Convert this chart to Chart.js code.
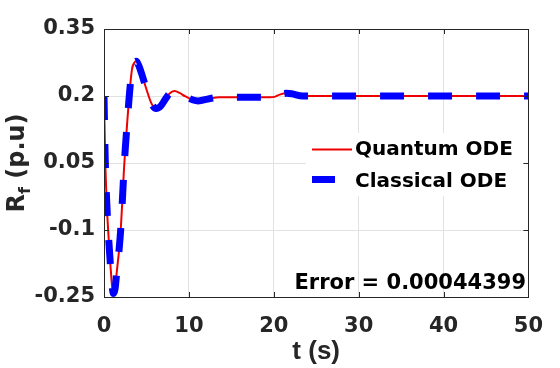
<!DOCTYPE html>
<html>
<head>
<meta charset="utf-8">
<script src="https://cdn.jsdelivr.net/npm/chart.js@4/dist/chart.umd.min.js"></script>
<style>
    html, body { margin: 0; padding: 0; background: #fff; }
    #rfChart { display: block; }
</style>
</head>
<body>
<canvas id="rfChart" width="560" height="368"></canvas>
<script>
// time axis (s) and the two responses
const timeS = [0, 0.06, 0.14, 0.26, 0.4, 0.57, 0.77, 0.95, 1.12, 1.3, 1.5, 1.75, 2.0, 2.2, 2.35,
    2.5, 2.75, 3.0, 3.3, 3.55, 3.8, 4.1, 4.4, 5.0, 5.6, 6.15, 6.7, 7.2, 7.7, 8.3, 8.9, 9.5,
    10.5, 11.1, 12.4, 13.6, 16, 19.5, 20.1, 20.7, 21.5, 22.1, 23.4, 24.6, 30, 40, 50];
const quantumOde = [0.2, 0.14, 0.06, -0.01, -0.07, -0.125, -0.182, -0.225, -0.242, -0.232, -0.195, -0.15, -0.09, -0.02, 0.035,
    0.08, 0.145, 0.205, 0.26, 0.274, 0.278, 0.268, 0.252, 0.215, 0.183, 0.172, 0.178, 0.192, 0.205, 0.211, 0.207, 0.2,
    0.191, 0.189, 0.194, 0.197, 0.197, 0.197, 0.198, 0.203, 0.206, 0.205, 0.2, 0.2, 0.2, 0.2, 0.2];
const classicalOde = [0.2, 0.14, 0.06, -0.01, -0.07, -0.125, -0.182, -0.225, -0.242, -0.232, -0.195, -0.15, -0.09, -0.02, 0.035,
    0.08, 0.145, 0.205, 0.26, 0.274, 0.278, 0.268, 0.252, 0.215, 0.183, 0.172, 0.178, 0.192, 0.205, 0.211, 0.207, 0.2,
    0.191, 0.189, 0.194, 0.197, 0.197, 0.197, 0.198, 0.203, 0.206, 0.205, 0.2, 0.2, 0.2, 0.2, 0.2];

const xTicks = [0, 10, 20, 30, 40, 50];
const yTicks = [-0.25, -0.1, 0.05, 0.2, 0.35];
const seriesNames = ['Quantum ODE', 'Classical ODE'];
const errorText = 'Error = 0.00044399';
const xTitle = 't (s)';

const ink = '#262626';
const tickFont = { family: 'DejaVu Sans', weight: 'bold', size: 21 };

const toPoints = ys => timeS.map((t, i) => ({ x: t, y: ys[i] }));

// frame, inward ticks, legend, error note and axis titles
const decor = {
    id: 'decor',
    afterDatasetsDraw(chart) {
        const ctx = chart.ctx;
        const ds = chart.data.datasets;
        ctx.save();

        // legend
        ctx.fillStyle = '#fff';
        ctx.fillRect(306, 133, 221, 63);
        ctx.strokeStyle = ds[0].borderColor;
        ctx.lineWidth = 2;
        ctx.beginPath();
        ctx.moveTo(312, 149.5);
        ctx.lineTo(352, 149.5);
        ctx.stroke();
        ctx.fillStyle = ds[1].borderColor;
        ctx.fillRect(312, 176, 23, 7);
        ctx.fillStyle = '#000';
        ctx.font = 'bold 20px "DejaVu Sans"';
        ctx.textAlign = 'left';
        ctx.textBaseline = 'middle';
        ctx.fillText(ds[0].label, 355, 150);
        ctx.fillText(ds[1].label, 355, 182);

        // error note
        ctx.font = 'bold 21px "DejaVu Sans"';
        ctx.textAlign = 'right';
        ctx.textBaseline = 'alphabetic';
        ctx.fillText(errorText, 526, 289);

        ctx.restore();
    },
    afterDraw(chart) {
        const ctx = chart.ctx;
        const a = chart.chartArea;
        const xs = chart.scales.x, ys = chart.scales.y;
        ctx.save();
        ctx.strokeStyle = ink;
        ctx.lineWidth = 1;
        ctx.strokeRect(Math.round(a.left) + 0.5, Math.round(a.top) + 0.5,
            Math.round(a.right - a.left), Math.round(a.bottom - a.top));
        ctx.beginPath();
        xTicks.forEach(v => {
            const px = Math.round(xs.getPixelForValue(v)) + 0.5;
            ctx.moveTo(px, a.bottom); ctx.lineTo(px, a.bottom - 5);
            ctx.moveTo(px, a.top); ctx.lineTo(px, a.top + 5);
        });
        yTicks.forEach(v => {
            const py = Math.round(ys.getPixelForValue(v)) + 0.5;
            ctx.moveTo(a.left, py); ctx.lineTo(a.left + 5, py);
            ctx.moveTo(a.right, py); ctx.lineTo(a.right - 5, py);
        });
        ctx.stroke();

        // axis titles
        ctx.fillStyle = ink;
        ctx.font = 'bold 26px "Liberation Sans"';
        ctx.textAlign = 'center';
        ctx.textBaseline = 'alphabetic';
        ctx.fillText(xTitle, (a.left + a.right) / 2, 359);

        ctx.translate(23.5, (a.top + a.bottom) / 2);
        ctx.rotate(-Math.PI / 2);
        const big = 'bold 24px "DejaVu Sans"', small = 'bold 16px "DejaVu Sans"';
        ctx.font = big;
        const wR = ctx.measureText('R').width;
        const wRest = ctx.measureText(' (p.u)').width;
        ctx.font = small;
        const wF = ctx.measureText('f').width;
        let x0 = -(wR + wF + wRest) / 2;
        ctx.textAlign = 'left';
        ctx.font = big;
        ctx.fillText('R', x0, 0);
        ctx.font = small;
        ctx.fillText('f', x0 + wR, 6);
        ctx.font = big;
        ctx.fillText(' (p.u)', x0 + wR + wF, 0);
        ctx.restore();
    }
};

new Chart(document.getElementById('rfChart'), {
    type: 'line',
    data: {
        datasets: [{
            label: seriesNames[0],
            data: toPoints(quantumOde),
            borderColor: '#ee0000',
            borderWidth: 2,
            pointRadius: 0,
            cubicInterpolationMode: 'monotone',
            order: 2
        }, {
            label: seriesNames[1],
            data: toPoints(classicalOde),
            borderColor: '#0000ff',
            borderWidth: 7,
            borderDash: [24, 24],
            borderCapStyle: 'butt',
            pointRadius: 0,
            cubicInterpolationMode: 'monotone',
            order: 1
        }]
    },
    options: {
        responsive: false,
        animation: false,
        devicePixelRatio: 1,
        layout: { padding: { top: 29, right: 31, left: 0, bottom: 0 } },
        plugins: {
            legend: { display: false },
            tooltip: { enabled: false }
        },
        scales: {
            x: {
                type: 'linear',
                min: 0,
                max: 50,
                afterBuildTicks: s => { s.ticks = xTicks.map(v => ({ value: v })); },
                afterFit: s => { s.height = 71; },
                ticks: { font: tickFont, color: ink, padding: 17, maxRotation: 0 },
                grid: { color: '#e2e2e2', drawTicks: false },
                border: { display: false }
            },
            y: {
                type: 'linear',
                min: -0.25,
                max: 0.35,
                afterBuildTicks: s => { s.ticks = yTicks.map(v => ({ value: v })); },
                afterFit: s => { s.width = 104; },
                ticks: {
                    font: tickFont,
                    color: ink,
                    padding: 9,
                    callback: v => String(+v.toFixed(2))
                },
                grid: { color: '#e2e2e2', drawTicks: false },
                border: { display: false }
            }
        }
    },
    plugins: [decor]
});
</script>
</body>
</html>
